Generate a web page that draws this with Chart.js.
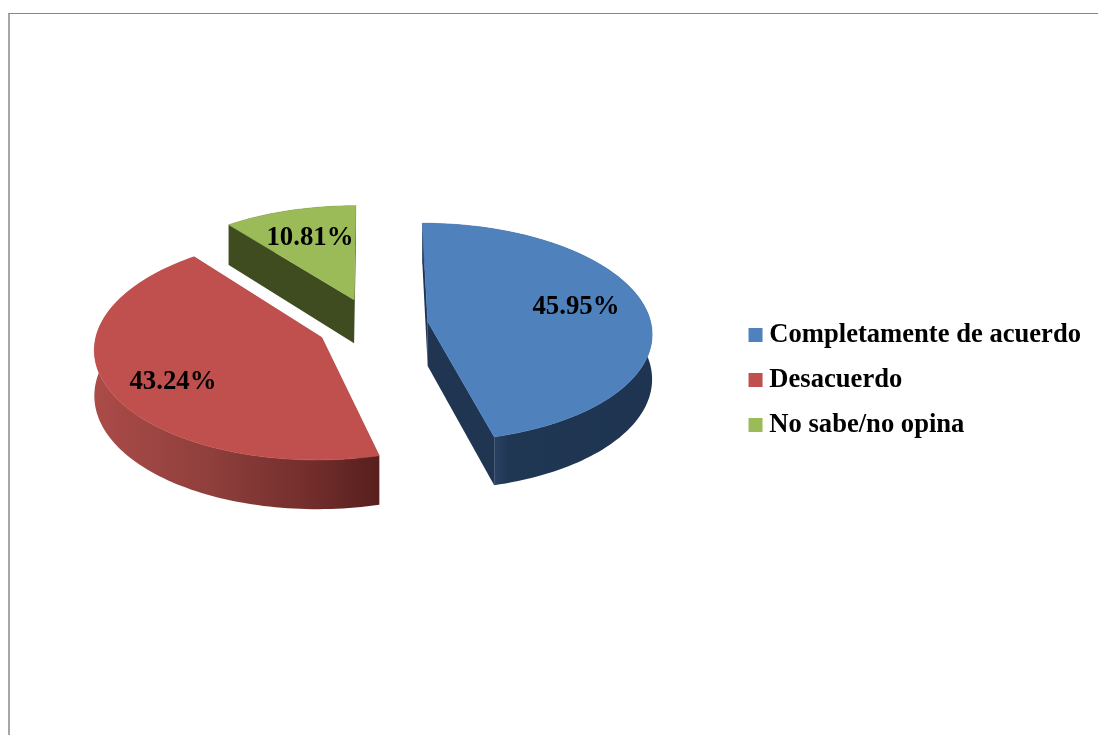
<!DOCTYPE html>
<html><head><meta charset="utf-8">
<script src="https://cdn.jsdelivr.net/npm/chart.js@4"></script>
<style>
html,body{margin:0;padding:0;background:#fff;overflow:hidden}
#wrap{position:relative;width:1098px;height:735px}
#frame{position:absolute;left:8px;top:13px;right:0;bottom:0;border-left:2px solid #a6a6a6;border-top:1px solid #888}
canvas{position:absolute;left:0;top:0}
</style></head><body>
<div id="wrap"><div id="frame"></div><canvas id="c" width="1098" height="735"></canvas></div>
<script>
const categories = ['Completamente de acuerdo', 'Desacuerdo', 'No sabe/no opina'];
const percentages = [45.95, 43.24, 10.81];
const topColors = ['#4F81BD', '#C0504D', '#9BBB59'];
const valueLabels = ['45.95%', '43.24%', '10.81%'];

const FONT = '"Liberation Serif","Times New Roman",serif';
const LABEL_XY = [[576, 307], [173, 382], [310, 238]];
const TILT = 0.49, PERSP = 0.00043, DEPTH = 44.5, PIE_SHIFT_X = 4, PIE_SHIFT_Y = -55;

function project(arc, u, v) {
  const s = 1 + v * PERSP;
  return { x: arc.x + PIE_SHIFT_X + u * s, y: arc.y + PIE_SHIFT_Y + v * TILT * s, d: DEPTH * s };
}
function slicePoints(arc) {
  const off = arc.options.offset / 2, mid = (arc.startAngle + arc.endAngle) / 2;
  const ox = Math.cos(mid) * off, oy = Math.sin(mid) * off;
  const pts = [];
  const n = Math.max(8, Math.ceil((arc.endAngle - arc.startAngle) * 40));
  for (let i = 0; i <= n; i++) {
    const a = arc.startAngle + (arc.endAngle - arc.startAngle) * i / n;
    pts.push(project(arc, ox + Math.cos(a) * arc.outerRadius, oy + Math.sin(a) * arc.outerRadius));
  }
  return { rim: pts, apex: project(arc, ox, oy) };
}
function poly(ctx, pts, fill, seam) {
  ctx.beginPath();
  pts.forEach((p, i) => i ? ctx.lineTo(p.x, p.y) : ctx.moveTo(p.x, p.y));
  ctx.closePath();
  ctx.fillStyle = fill;
  ctx.fill();
  if (seam) { ctx.strokeStyle = fill; ctx.lineWidth = 0.6; ctx.stroke(); }
}
const down = p => ({ x: p.x, y: p.y + p.d });

const pie3d = {
  id: 'pie3d',
  beforeDatasetDraw(chart) {
    const ctx = chart.ctx, arcs = chart.getDatasetMeta(0).data;
    const wallGrad = (stops, x0, x1) => {
      const g = ctx.createLinearGradient(x0, 0, x1, 0);
      stops.forEach(s => g.addColorStop(s[0], s[1]));
      return g;
    };
    const walls = [
      wallGrad([[0, '#2B4263'], [0.1, '#203753'], [1, '#1E3450']], 493, 652),
      wallGrad([[0, '#AB4B48'], [0.4, '#8F3F3C'], [0.75, '#732E2C'], [1, '#571F1D']], 95, 380),
      '#3F4C20'
    ];
    const cuts = ['#1F3552', '#7A2F2D', '#3F4C20'];
    [2, 1, 0].forEach(i => {
      const arc = arcs[i], { rim, apex } = slicePoints(arc);
      const first = rim[0], last = rim[rim.length - 1];
      poly(ctx, [apex, first, down(first), down(apex)], cuts[i]);
      poly(ctx, [apex, last, down(last), down(apex)], cuts[i]);
      poly(ctx, rim.concat(rim.slice().reverse().map(down)), walls[i]);
      poly(ctx, [apex].concat(rim), arc.options.backgroundColor, true);
    });
    return false;
  },
  afterDatasetsDraw(chart) {
    const ctx = chart.ctx;
    ctx.save();
    ctx.font = 'bold 26.8px ' + FONT;
    ctx.fillStyle = '#000';
    ctx.textAlign = 'center';
    ctx.textBaseline = 'middle';
    valueLabels.forEach((t, i) => ctx.fillText(t, LABEL_XY[i][0], LABEL_XY[i][1]));
    ctx.restore();
  }
};

new Chart(document.getElementById('c'), {
  type: 'pie',
  data: {
    labels: categories,
    datasets: [{ data: percentages, backgroundColor: topColors, borderWidth: 0, offset: 112, radius: 223.5 }]
  },
  options: {
    responsive: false,
    animation: false,
    layout: { padding: { top: 25, bottom: 0, left: 0, right: 7 } },
    plugins: {
      tooltip: { enabled: false },
      legend: {
        position: 'right',
        labels: {
          usePointStyle: true, pointStyle: 'rect', boxWidth: 1, boxHeight: 14, padding: 18.4,
          color: '#000', font: { family: FONT, size: 26.6, weight: 'bold' }
        }
      }
    }
  },
  plugins: [pie3d]
});
</script>
</body></html>
